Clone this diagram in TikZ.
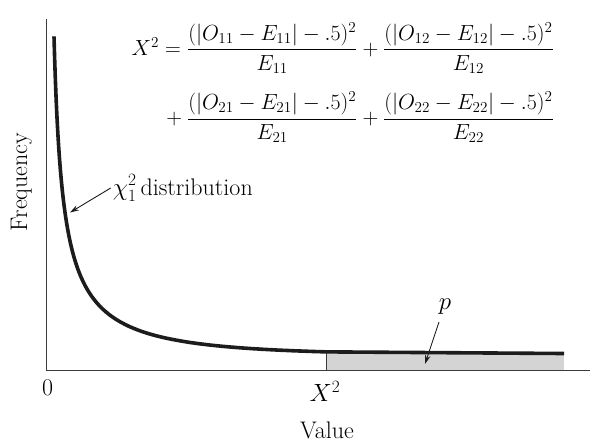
\documentclass[tikz,border=0pt]{standalone}
\usepackage{amsmath}
\usepackage{graphicx}
\usetikzlibrary{arrows.meta}
\definecolor{shadegray}{RGB}{212,212,212}
\definecolor{axisgray}{RGB}{60,60,60}
\definecolor{curveblack}{RGB}{28,28,28}
\tikzset{
  lbl/.style={inner sep=0pt, font=\fontsize{24}{28}\selectfont},
  eqn/.style={inner sep=0pt, font=\fontsize{20.74}{25}\selectfont},
  axisline/.style={line width=1.4pt, draw=axisgray},
  curveline/.style={line width=3.6pt, draw=curveblack},
  pointer/.style={line width=0.9pt, draw=curveblack, -{Stealth[length=9pt,width=5.5pt]}}
}
\begin{document}
\begin{tikzpicture}[x=1pt,y=-1pt]
\useasboundingbox (0,0) rectangle (596,442);
% shaded tail
\fill[shadegray] (326.7,353) rectangle (564,370.7);
% axes
\draw[axisline] (46.7,19) -- (46.7,370.7) -- (590,370.7);
\draw[axisline, line width=1.2pt] (326.7,353) -- (326.7,370.7);
% curve
\draw[curveline] plot[domain=1.988:5.635, samples=300, variable=\t]
  ({46.7+exp(\t)}, {355-1636*exp(-0.8*\t)*exp(-exp(\t)/160)}) -- (564,353.5);
% labels
\node[lbl, anchor=base west] (chi) at (112.7,195) {$\chi^2_1$\kern4pt distribution};
\coordinate (tipA) at (70,212.5);
\draw[pointer] ([xshift=-2pt]chi.west) -- (tipA);
\node[lbl] (p) at (445,307) {$p$};
\coordinate (tipB) at (425,364);
\draw[pointer] ([shift={(-6,7)}]p.south) -- (tipB);
\node[lbl] (zero) at (47.7,388) {0};
\node[lbl, anchor=base] (xsq) at (325,401.7) {$X^2$};
\node[lbl, anchor=base] (val) at (327,438) {Value};
\node[lbl, rotate=90, anchor=base] (freq) at (27,182) {Frequency};
% equation
\node[eqn, anchor=base east] (row1) at (554,55.3)
  {\scalebox{1.055}{$X^2 = \dfrac{(|O_{11}-E_{11}|-.5)^2}{E_{11}} + \dfrac{(|O_{12}-E_{12}|-.5)^2}{E_{12}}$}};
\node[eqn, anchor=base east] (row2) at (554,124.5)
  {\scalebox{1.055}{${}+ \dfrac{(|O_{21}-E_{21}|-.5)^2}{E_{21}} + \dfrac{(|O_{22}-E_{22}|-.5)^2}{E_{22}}$}};
\end{tikzpicture}
\end{document}
